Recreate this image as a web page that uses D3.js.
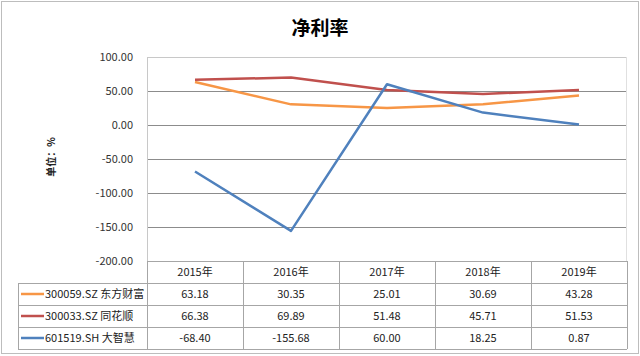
<!DOCTYPE html>
<html><head><meta charset="utf-8">
<script src="https://cdn.jsdelivr.net/npm/d3@7"></script>
<style>body{margin:0;background:#fff}svg{display:block}</style>
</head><body>
<script>
const title = "净利率";
const yLabel = "单位：%";
const categories = ["2015年","2016年","2017年","2018年","2019年"];
const seriesNames = ["300059.SZ 东方财富","300033.SZ 同花顺","601519.SH 大智慧"];
const s1 = [63.18, 30.35, 25.01, 30.69, 43.28];
const s2 = [66.38, 69.89, 51.48, 45.71, 51.53];
const s3 = [-68.40, -155.68, 60.00, 18.25, 0.87];
const colors = ["#F79646","#C0504D","#4F81BD"];
const yTicks = [100,50,0,-50,-100,-150,-200];
const seriesData = [s1,s2,s3];

(function(){
const W=640,H=356;
const font = "'Noto Sans CJK SC','Noto Sans',sans-serif";
const fmt = d3.formatLocale({decimal:".",thousands:",",grouping:[3],currency:["",""],minus:"-"}).format(".2f");
const svg = d3.select("body").append("svg").attr("width",W).attr("height",H);
svg.append("rect").attr("x",1.5).attr("y",1.5).attr("width",W-3).attr("height",H-4)
  .attr("fill","#fff").attr("stroke","#bdbdbd");

const pL=147,pR=627,pT=57,pB=261;
const x = d3.scaleBand().domain(categories).range([pL,pR]);
const y = d3.scaleLinear().domain([-200,100]).range([pB,pT]);

svg.append("text").attr("x",320).attr("y",35).attr("text-anchor","middle")
  .attr("font-family",font).attr("font-weight","bold").attr("font-size",19).attr("fill","#000").text(title);

const g = svg.append("g");
g.selectAll("line.grid").data(yTicks).enter().append("line")
  .attr("x1",pL).attr("x2",pR)
  .attr("y1",d=>Math.round(y(d))+0.5).attr("y2",d=>Math.round(y(d))+0.5)
  .attr("stroke",d=>d===100?"#c8c8c8":"#8c8c8c").attr("stroke-width",1);
g.append("line").attr("x1",pL+0.5).attr("x2",pL+0.5).attr("y1",pT).attr("y2",pB)
  .attr("stroke","#c8c8c8");
g.append("line").attr("x1",pR-0.5).attr("x2",pR-0.5).attr("y1",pT).attr("y2",pB)
  .attr("stroke","#e0e0e0");

const yAxis = d3.axisLeft(y).tickValues(yTicks).tickFormat(fmt).tickSize(0).tickPadding(14);
const ya = svg.append("g").attr("transform",`translate(${pL},0)`).call(yAxis);
ya.select(".domain").remove();
ya.selectAll("text").attr("font-family",font).attr("font-size",11).attr("fill","#333");

svg.append("text").attr("transform","translate(55,157) rotate(-90)").attr("text-anchor","middle")
  .attr("font-family",font).attr("font-size",10).attr("font-weight","bold").attr("fill","#222").text(yLabel);

const line = d3.line().x((d,i)=>x(categories[i])+x.bandwidth()/2).y(d=>y(d));
seriesData.forEach((s,k)=>{
  svg.append("path").datum(s).attr("d",line).attr("fill","none")
    .attr("stroke",colors[k]).attr("stroke-width",2.5).attr("stroke-linejoin","round");
});

const tLeft=18;
const rows = [pB, pB+22, pB+44, pB+66, pB+88];
const tg = svg.append("g").attr("stroke","#a6a6a6").attr("stroke-width",1);
rows.forEach((ry,i)=>{
  tg.append("line").attr("x1",i===0?pL:tLeft).attr("x2",pR)
    .attr("y1",ry+0.5).attr("y2",ry+0.5);
});
tg.append("line").attr("x1",tLeft+0.5).attr("x2",tLeft+0.5).attr("y1",rows[1]).attr("y2",rows[4]);
categories.concat(["end"]).forEach((c,i)=>{
  const xx = i<categories.length ? x(c) : pR;
  tg.append("line").attr("x1",Math.round(xx)+0.5).attr("x2",Math.round(xx)+0.5)
    .attr("y1",rows[0]).attr("y2",rows[4]);
});
categories.forEach(c=>{
  svg.append("text").attr("x",x(c)+x.bandwidth()/2).attr("y",rows[0]+15).attr("text-anchor","middle")
    .attr("font-family",font).attr("font-size",11).attr("fill","#222").text(c);
});
seriesData.forEach((s,k)=>{
  const ry = rows[k+1];
  svg.append("line").attr("x1",21).attr("x2",44).attr("y1",ry+11).attr("y2",ry+11)
    .attr("stroke",colors[k]).attr("stroke-width",2.5);
  svg.append("text").attr("x",45).attr("y",ry+15).attr("font-family",font).attr("font-size",11)
    .attr("fill","#222").text(seriesNames[k]);
  s.forEach((v,i)=>{
    svg.append("text").attr("x",x(categories[i])+x.bandwidth()/2).attr("y",ry+15).attr("text-anchor","middle")
      .attr("font-family",font).attr("font-size",11).attr("fill","#222").text(fmt(v));
  });
});
})();
</script>
</body></html>
